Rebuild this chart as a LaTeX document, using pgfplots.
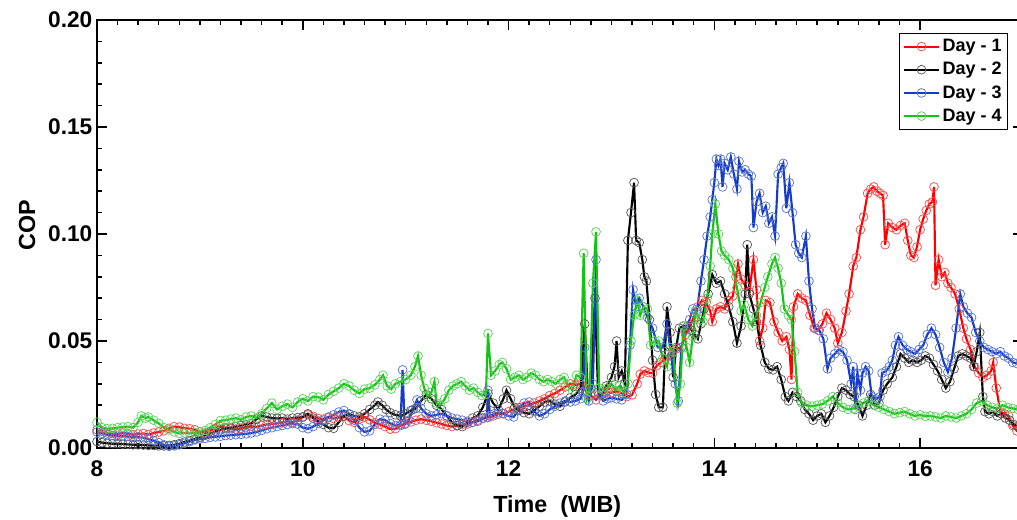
\documentclass[border=0pt]{standalone}
\usepackage{pgfplots}
\pgfplotsset{compat=1.18}
\usepackage{fontspec}
\setmainfont{Liberation Sans}
\definecolor{cred}{RGB}{255,0,0}
\definecolor{cblack}{RGB}{0,0,0}
\definecolor{cblue}{RGB}{20,60,200}
\definecolor{cgreen}{RGB}{20,195,20}
\begin{document}
\begin{tikzpicture}
\useasboundingbox (-72.75pt,-53.25pt) rectangle (690pt,336pt);
\begin{axis}[
  at={(0,0)}, anchor=south west,
  scale only axis, width=694.5pt, height=321pt,
  xmin=8, xmax=17, ymin=0, ymax=0.2,
  xtick={8,10,12,14,16}, xticklabels={8,10,12,14,16},
  ytick={0,0.05,0.1,0.15,0.2}, yticklabels={0.00,0.05,0.10,0.15,0.20},
  minor x tick num=9, minor y tick num=4,
  tick align=inside,
  major tick length=7.5pt, minor tick length=3.75pt,
  axis line style={line width=1.5pt},
  tick style={line width=1.1pt, black},
  ticklabel style={font=\fontsize{17}{20}\selectfont\bfseries},
  xticklabel shift=6pt,
  xlabel={Time\ \ (WIB)}, ylabel={COP},
  label style={font=\fontsize{17.5}{20}\selectfont\bfseries},
  xlabel style={at={(axis description cs:0.497,-0.137)}, anchor=center},
  ylabel style={at={(axis description cs:-0.0756,0.52)}, anchor=center},
  legend style={at={(0.984,0.970)}, anchor=north east, draw=black, line width=0.8pt,
    font=\fontsize{13.5}{16}\selectfont\bfseries, inner sep=2.5pt, row sep=2.5pt},
  legend cell align=left,
  legend image code/.code={\draw[#1] (0pt,0pt) -- (26pt,0pt); \draw[#1] plot coordinates {(13pt,0pt)};},
  every axis plot/.append style={line width=1.6pt, mark=o, mark size=3.3pt},
]
\addplot[color=cred, mark options={solid, draw=cred!70, fill=none, line width=0.55pt}] coordinates {
(8.00,0.0085)(8.05,0.0078)(8.10,0.0070)(8.15,0.0068)(8.20,0.0065)(8.25,0.0070)(8.30,0.0066)(8.35,0.0062)(8.40,0.0065)(8.45,0.0068)
(8.50,0.0063)(8.55,0.0070)(8.60,0.0075)(8.65,0.0080)(8.70,0.0092)(8.75,0.0100)(8.80,0.0098)(8.85,0.0092)(8.90,0.0090)(8.95,0.0085)
(9.00,0.0075)(9.05,0.0070)(9.10,0.0078)(9.15,0.0090)(9.20,0.0100)(9.25,0.0095)(9.30,0.0090)(9.35,0.0088)(9.40,0.0092)(9.45,0.0098)
(9.50,0.0102)(9.55,0.0098)(9.60,0.0105)(9.65,0.0110)(9.70,0.0112)(9.75,0.0115)(9.80,0.0118)(9.85,0.0125)(9.90,0.0120)(9.95,0.0130)
(10.00,0.0145)(10.05,0.0155)(10.10,0.0148)(10.15,0.0138)(10.20,0.0135)(10.25,0.0142)(10.30,0.0138)(10.35,0.0145)(10.40,0.0148)(10.45,0.0128)
(10.50,0.0120)(10.55,0.0135)(10.60,0.0145)(10.65,0.0132)(10.70,0.0118)(10.75,0.0110)(10.80,0.0100)(10.85,0.0088)(10.90,0.0090)(10.95,0.0105)
(11.00,0.0115)(11.05,0.0122)(11.10,0.0130)(11.15,0.0135)(11.20,0.0130)(11.25,0.0125)(11.30,0.0118)(11.35,0.0112)(11.40,0.0105)(11.45,0.0100)
(11.50,0.0104)(11.55,0.0110)(11.60,0.0112)(11.65,0.0120)(11.70,0.0130)(11.75,0.0138)(11.80,0.0142)(11.85,0.0150)(11.90,0.0158)(11.95,0.0162)
(12.00,0.0170)(12.05,0.0180)(12.10,0.0188)(12.15,0.0195)(12.20,0.0200)(12.25,0.0210)(12.30,0.0220)(12.35,0.0230)(12.40,0.0245)(12.45,0.0255)
(12.50,0.0270)(12.55,0.0285)(12.60,0.0300)(12.65,0.0295)(12.70,0.0300)(12.75,0.0270)(12.80,0.0245)(12.85,0.0225)(12.90,0.0250)(12.95,0.0262)
(13.00,0.0258)(13.05,0.0265)(13.10,0.0255)(13.15,0.0240)(13.20,0.0248)(13.25,0.0300)(13.28,0.0345)(13.32,0.0360)(13.36,0.0352)(13.40,0.0350)
(13.44,0.0385)(13.48,0.0400)(13.52,0.0415)(13.56,0.0440)(13.60,0.0460)(13.64,0.0465)(13.68,0.0470)(13.72,0.0530)(13.76,0.0570)(13.80,0.0610)
(13.84,0.0660)(13.88,0.0690)(13.92,0.0680)(13.96,0.0640)(13.98,0.0590)(14.02,0.0650)(14.06,0.0660)(14.10,0.0650)(14.14,0.0690)(14.18,0.0710)
(14.21,0.0800)(14.23,0.0860)(14.26,0.0790)(14.30,0.0760)(14.34,0.0730)(14.38,0.0880)(14.41,0.0740)(14.44,0.0500)(14.47,0.0560)(14.50,0.0690)
(14.54,0.0680)(14.58,0.0590)(14.62,0.0540)(14.66,0.0500)(14.70,0.0520)(14.73,0.0460)(14.75,0.0320)(14.77,0.0660)(14.81,0.0720)(14.85,0.0700)
(14.89,0.0690)(14.93,0.0620)(14.97,0.0560)(15.01,0.0550)(15.05,0.0580)(15.09,0.0630)(15.13,0.0600)(15.17,0.0560)(15.20,0.0490)(15.24,0.0540)
(15.28,0.0640)(15.31,0.0720)(15.35,0.0850)(15.38,0.0890)(15.42,0.1020)(15.45,0.1080)(15.49,0.1190)(15.52,0.1210)(15.55,0.1220)(15.58,0.1200)
(15.61,0.1190)(15.64,0.1180)(15.66,0.0950)(15.69,0.1050)(15.73,0.1030)(15.77,0.1020)(15.81,0.1040)(15.85,0.1050)(15.88,0.0970)(15.91,0.0900)
(15.94,0.0890)(15.97,0.0940)(16.00,0.1020)(16.03,0.1070)(16.06,0.1110)(16.09,0.1140)(16.12,0.1150)(16.135,0.1220)(16.15,0.0760)(16.18,0.0880)
(16.21,0.0800)(16.24,0.0820)(16.27,0.0770)(16.30,0.0750)(16.34,0.0720)(16.38,0.0650)(16.42,0.0560)(16.45,0.0510)(16.49,0.0460)(16.53,0.0380)
(16.57,0.0350)(16.61,0.0330)(16.65,0.0340)(16.69,0.0360)(16.71,0.0400)(16.74,0.0280)(16.78,0.0170)(16.82,0.0160)(16.86,0.0150)(16.90,0.0105)
(16.94,0.0080)(17.00,0.0060)
};
\addlegendentry{Day - 1}
\addplot[color=cblack, mark options={solid, draw=cblack!65, fill=none, line width=0.55pt}] coordinates {
(8.00,0.0030)(8.05,0.0025)(8.10,0.0022)(8.15,0.0020)(8.20,0.0020)(8.25,0.0018)(8.30,0.0017)(8.35,0.0015)(8.40,0.0015)(8.45,0.0014)
(8.50,0.0012)(8.55,0.0012)(8.60,0.0010)(8.65,0.0010)(8.70,0.0012)(8.75,0.0015)(8.80,0.0020)(8.85,0.0028)(8.90,0.0035)(8.95,0.0042)
(9.00,0.0050)(9.05,0.0060)(9.10,0.0068)(9.15,0.0078)(9.20,0.0085)(9.25,0.0090)(9.30,0.0095)(9.35,0.0100)(9.40,0.0105)(9.45,0.0110)
(9.50,0.0115)(9.55,0.0135)(9.60,0.0150)(9.65,0.0145)(9.70,0.0140)(9.75,0.0138)(9.80,0.0140)(9.85,0.0135)(9.90,0.0140)(9.95,0.0142)
(10.00,0.0145)(10.05,0.0160)(10.10,0.0140)(10.15,0.0125)(10.20,0.0110)(10.25,0.0095)(10.30,0.0092)(10.35,0.0120)(10.40,0.0150)(10.45,0.0158)
(10.50,0.0150)(10.55,0.0145)(10.60,0.0160)(10.65,0.0180)(10.70,0.0200)(10.73,0.0215)(10.77,0.0200)(10.81,0.0180)(10.85,0.0165)(10.90,0.0155)
(10.95,0.0150)(11.00,0.0160)(11.05,0.0175)(11.10,0.0185)(11.15,0.0220)(11.20,0.0250)(11.25,0.0230)(11.30,0.0200)(11.35,0.0180)(11.40,0.0150)
(11.45,0.0120)(11.50,0.0105)(11.55,0.0100)(11.60,0.0120)(11.65,0.0140)(11.70,0.0150)(11.75,0.0190)(11.80,0.0255)(11.85,0.0210)(11.90,0.0180)
(11.95,0.0230)(11.98,0.0270)(12.02,0.0230)(12.06,0.0190)(12.10,0.0175)(12.15,0.0165)(12.20,0.0160)(12.25,0.0175)(12.30,0.0195)(12.35,0.0215)
(12.40,0.0220)(12.45,0.0205)(12.50,0.0195)(12.55,0.0215)(12.60,0.0235)(12.65,0.0250)(12.70,0.0280)(12.74,0.0580)(12.77,0.0260)(12.80,0.0280)
(12.84,0.0700)(12.87,0.0260)(12.91,0.0250)(12.95,0.0290)(13.00,0.0330)(13.03,0.0380)(13.05,0.0500)(13.07,0.0330)(13.10,0.0360)(13.13,0.0300)
(13.16,0.0970)(13.19,0.1100)(13.22,0.1240)(13.24,0.0970)(13.27,0.0960)(13.30,0.0880)(13.32,0.0800)(13.34,0.0780)(13.37,0.0600)(13.40,0.0410)
(13.43,0.0250)(13.46,0.0190)(13.50,0.0190)(13.52,0.0450)(13.54,0.0660)(13.57,0.0540)(13.60,0.0330)(13.63,0.0470)(13.66,0.0560)(13.70,0.0570)
(13.74,0.0570)(13.78,0.0550)(13.81,0.0530)(13.84,0.0510)(13.87,0.0580)(13.90,0.0650)(13.94,0.0720)(13.98,0.0810)(14.02,0.0770)(14.06,0.0780)
(14.10,0.0720)(14.14,0.0660)(14.18,0.0590)(14.22,0.0490)(14.26,0.0570)(14.30,0.0720)(14.32,0.0950)(14.34,0.0720)(14.38,0.0650)(14.41,0.0590)
(14.45,0.0480)(14.49,0.0400)(14.53,0.0370)(14.57,0.0365)(14.61,0.0380)(14.65,0.0320)(14.69,0.0240)(14.72,0.0220)(14.76,0.0260)(14.80,0.0240)
(14.84,0.0220)(14.88,0.0180)(14.92,0.0160)(14.96,0.0130)(15.00,0.0150)(15.04,0.0160)(15.08,0.0120)(15.12,0.0150)(15.16,0.0190)(15.20,0.0240)
(15.24,0.0280)(15.28,0.0270)(15.32,0.0250)(15.36,0.0240)(15.40,0.0200)(15.44,0.0150)(15.48,0.0200)(15.52,0.0250)(15.56,0.0200)(15.60,0.0210)
(15.64,0.0270)(15.68,0.0300)(15.73,0.0330)(15.77,0.0380)(15.81,0.0440)(15.85,0.0420)(15.89,0.0400)(15.93,0.0410)(15.97,0.0400)(16.01,0.0410)
(16.05,0.0430)(16.09,0.0420)(16.13,0.0390)(16.17,0.0360)(16.21,0.0320)(16.25,0.0280)(16.29,0.0310)(16.33,0.0370)(16.37,0.0430)(16.41,0.0440)
(16.45,0.0430)(16.49,0.0420)(16.52,0.0380)(16.55,0.0450)(16.58,0.0540)(16.61,0.0240)(16.63,0.0170)(16.67,0.0160)(16.71,0.0170)(16.75,0.0150)
(16.79,0.0160)(16.83,0.0140)(16.87,0.0130)(16.91,0.0110)(16.95,0.0100)(17.00,0.0090)
};
\addlegendentry{Day - 2}
\addplot[color=cblue, mark options={solid, draw=cblue!70, fill=none, line width=0.55pt}] coordinates {
(8.00,0.0075)(8.05,0.0068)(8.10,0.0062)(8.15,0.0058)(8.20,0.0055)(8.25,0.0056)(8.30,0.0054)(8.35,0.0050)(8.40,0.0052)(8.45,0.0048)
(8.50,0.0042)(8.55,0.0035)(8.60,0.0025)(8.65,0.0015)(8.70,0.0008)(8.75,0.0010)(8.80,0.0015)(8.85,0.0022)(8.90,0.0030)(8.95,0.0038)
(9.00,0.0042)(9.05,0.0045)(9.10,0.0050)(9.15,0.0052)(9.20,0.0055)(9.25,0.0058)(9.30,0.0060)(9.35,0.0062)(9.40,0.0064)(9.45,0.0066)
(9.50,0.0070)(9.55,0.0075)(9.60,0.0082)(9.65,0.0090)(9.70,0.0095)(9.75,0.0100)(9.80,0.0105)(9.85,0.0110)(9.90,0.0114)(9.95,0.0112)
(10.00,0.0095)(10.05,0.0090)(10.10,0.0100)(10.15,0.0115)(10.20,0.0130)(10.25,0.0145)(10.30,0.0155)(10.35,0.0168)(10.40,0.0175)(10.45,0.0160)
(10.50,0.0130)(10.55,0.0095)(10.60,0.0075)(10.65,0.0080)(10.70,0.0110)(10.75,0.0135)(10.80,0.0130)(10.85,0.0115)(10.90,0.0105)(10.95,0.0110)
(10.97,0.0365)(10.99,0.0110)(11.03,0.0130)(11.07,0.0180)(11.11,0.0225)(11.15,0.0185)(11.20,0.0160)(11.25,0.0150)(11.30,0.0155)(11.35,0.0160)
(11.40,0.0150)(11.45,0.0140)(11.50,0.0135)(11.55,0.0130)(11.60,0.0125)(11.65,0.0120)(11.70,0.0125)(11.75,0.0140)(11.79,0.0145)(11.80,0.0270)
(11.82,0.0150)(11.86,0.0160)(11.90,0.0165)(11.95,0.0160)(12.00,0.0150)(12.05,0.0145)(12.10,0.0180)(12.15,0.0210)(12.20,0.0215)(12.25,0.0170)
(12.30,0.0150)(12.35,0.0160)(12.40,0.0180)(12.45,0.0195)(12.50,0.0210)(12.55,0.0220)(12.60,0.0215)(12.65,0.0220)(12.70,0.0230)(12.72,0.0260)
(12.74,0.0470)(12.76,0.0260)(12.78,0.0220)(12.82,0.0300)(12.85,0.0880)(12.88,0.0250)(12.92,0.0220)(12.96,0.0230)(13.00,0.0235)(13.05,0.0230)
(13.10,0.0225)(13.15,0.0250)(13.18,0.0480)(13.21,0.0740)(13.24,0.0660)(13.27,0.0700)(13.31,0.0660)(13.35,0.0610)(13.40,0.0560)(13.45,0.0470)
(13.50,0.0470)(13.54,0.0580)(13.58,0.0430)(13.62,0.0300)(13.65,0.0220)(13.68,0.0470)(13.72,0.0550)(13.76,0.0600)(13.79,0.0650)(13.83,0.0640)
(13.87,0.0780)(13.90,0.0880)(13.93,0.0990)(13.96,0.1080)(13.98,0.1160)(14.00,0.1240)(14.02,0.1350)(14.04,0.1320)(14.06,0.1350)(14.08,0.1220)
(14.10,0.1330)(14.13,0.1300)(14.16,0.1360)(14.19,0.1280)(14.22,0.1210)(14.24,0.1340)(14.27,0.1290)(14.30,0.1300)(14.33,0.1280)(14.36,0.1270)
(14.38,0.1030)(14.41,0.1150)(14.44,0.1190)(14.47,0.1100)(14.50,0.1130)(14.53,0.1050)(14.56,0.1080)(14.59,0.0990)(14.62,0.1280)(14.65,0.1310)
(14.67,0.1330)(14.70,0.1120)(14.73,0.1240)(14.76,0.1100)(14.79,0.0950)(14.82,0.0910)(14.85,0.0890)(14.89,0.0990)(14.92,0.0780)(14.95,0.0650)
(14.98,0.0560)(15.02,0.0550)(15.06,0.0510)(15.10,0.0370)(15.13,0.0420)(15.17,0.0440)(15.21,0.0460)(15.25,0.0450)(15.29,0.0410)(15.33,0.0300)
(15.35,0.0380)(15.37,0.0180)(15.39,0.0350)(15.42,0.0270)(15.44,0.0350)(15.47,0.0380)(15.50,0.0360)(15.53,0.0240)(15.57,0.0230)(15.61,0.0240)
(15.63,0.0350)(15.67,0.0360)(15.70,0.0380)(15.73,0.0410)(15.76,0.0480)(15.79,0.0520)(15.83,0.0480)(15.87,0.0460)(15.91,0.0450)(15.95,0.0440)
(15.99,0.0460)(16.03,0.0480)(16.07,0.0530)(16.11,0.0560)(16.15,0.0530)(16.19,0.0470)(16.23,0.0400)(16.27,0.0355)(16.31,0.0420)(16.35,0.0560)
(16.39,0.0720)(16.42,0.0660)(16.46,0.0630)(16.50,0.0610)(16.54,0.0540)(16.58,0.0500)(16.62,0.0470)(16.66,0.0460)(16.70,0.0450)(16.74,0.0440)
(16.78,0.0450)(16.82,0.0430)(16.86,0.0420)(16.90,0.0400)(16.94,0.0395)(17.00,0.0380)
};
\addlegendentry{Day - 3}
\addplot[color=cgreen, mark options={solid, draw=cgreen!70, fill=none, line width=0.55pt}] coordinates {
(8.00,0.0120)(8.05,0.0095)(8.10,0.0090)(8.15,0.0092)(8.20,0.0095)(8.25,0.0098)(8.30,0.0100)(8.35,0.0095)(8.40,0.0120)(8.43,0.0150)
(8.47,0.0140)(8.50,0.0145)(8.55,0.0130)(8.60,0.0115)(8.65,0.0095)(8.70,0.0085)(8.75,0.0075)(8.80,0.0068)(8.85,0.0070)(8.90,0.0068)
(8.95,0.0072)(9.00,0.0075)(9.05,0.0082)(9.10,0.0095)(9.15,0.0110)(9.20,0.0128)(9.25,0.0130)(9.30,0.0135)(9.35,0.0140)(9.40,0.0132)
(9.45,0.0145)(9.50,0.0150)(9.55,0.0140)(9.60,0.0160)(9.65,0.0185)(9.70,0.0210)(9.75,0.0180)(9.80,0.0195)(9.85,0.0205)(9.90,0.0190)
(9.95,0.0215)(10.00,0.0230)(10.05,0.0220)(10.10,0.0240)(10.15,0.0238)(10.20,0.0225)(10.25,0.0250)(10.30,0.0265)(10.35,0.0280)(10.40,0.0300)
(10.45,0.0290)(10.50,0.0270)(10.55,0.0255)(10.60,0.0275)(10.65,0.0280)(10.70,0.0295)(10.75,0.0320)(10.78,0.0340)(10.82,0.0290)(10.86,0.0275)
(10.90,0.0300)(10.95,0.0310)(11.00,0.0320)(11.05,0.0340)(11.09,0.0380)(11.12,0.0430)(11.15,0.0340)(11.18,0.0280)(11.21,0.0240)(11.25,0.0260)
(11.28,0.0310)(11.30,0.0210)(11.34,0.0200)(11.38,0.0230)(11.42,0.0270)(11.46,0.0290)(11.50,0.0300)(11.54,0.0310)(11.58,0.0290)(11.62,0.0270)
(11.66,0.0280)(11.70,0.0260)(11.74,0.0245)(11.78,0.0250)(11.80,0.0535)(11.83,0.0340)(11.87,0.0360)(11.91,0.0390)(11.94,0.0400)(11.98,0.0370)
(12.02,0.0320)(12.06,0.0330)(12.10,0.0340)(12.14,0.0320)(12.18,0.0330)(12.22,0.0350)(12.26,0.0340)(12.30,0.0320)(12.34,0.0310)(12.38,0.0320)
(12.42,0.0310)(12.46,0.0300)(12.50,0.0320)(12.54,0.0330)(12.58,0.0290)(12.62,0.0270)(12.66,0.0340)(12.70,0.0330)(12.73,0.0910)(12.76,0.0230)
(12.79,0.0280)(12.82,0.0770)(12.85,0.1010)(12.88,0.0280)(12.92,0.0270)(12.96,0.0280)(13.00,0.0300)(13.04,0.0270)(13.08,0.0290)(13.12,0.0260)
(13.16,0.0300)(13.19,0.0500)(13.22,0.0620)(13.25,0.0690)(13.28,0.0620)(13.31,0.0660)(13.35,0.0650)(13.38,0.0480)(13.42,0.0500)(13.46,0.0500)
(13.50,0.0420)(13.54,0.0380)(13.57,0.0470)(13.60,0.0450)(13.64,0.0210)(13.67,0.0300)(13.70,0.0570)(13.73,0.0470)(13.76,0.0400)(13.79,0.0520)
(13.82,0.0640)(13.86,0.0600)(13.89,0.0590)(13.93,0.0700)(13.96,0.0850)(13.98,0.1000)(14.01,0.1140)(14.04,0.1000)(14.07,0.0920)(14.10,0.0900)
(14.14,0.0880)(14.18,0.0840)(14.22,0.0750)(14.26,0.0640)(14.29,0.0670)(14.33,0.0600)(14.37,0.0570)(14.41,0.0620)(14.45,0.0680)(14.49,0.0750)
(14.52,0.0800)(14.56,0.0860)(14.59,0.0890)(14.62,0.0840)(14.65,0.0770)(14.68,0.0650)(14.72,0.0620)(14.75,0.0600)(14.78,0.0450)(14.81,0.0260)
(14.85,0.0210)(14.90,0.0200)(14.95,0.0195)(15.00,0.0200)(15.05,0.0205)(15.10,0.0220)(15.15,0.0240)(15.20,0.0210)(15.25,0.0190)(15.30,0.0180)
(15.35,0.0185)(15.40,0.0195)(15.45,0.0210)(15.50,0.0220)(15.55,0.0200)(15.60,0.0190)(15.65,0.0180)(15.70,0.0170)(15.75,0.0160)(15.80,0.0165)
(15.85,0.0170)(15.90,0.0160)(15.95,0.0150)(16.00,0.0155)(16.05,0.0148)(16.10,0.0150)(16.15,0.0145)(16.20,0.0140)(16.25,0.0150)(16.30,0.0145)
(16.35,0.0140)(16.40,0.0150)(16.45,0.0160)(16.50,0.0180)(16.55,0.0210)(16.60,0.0220)(16.65,0.0200)(16.70,0.0190)(16.75,0.0185)(16.80,0.0200)
(16.85,0.0190)(16.90,0.0185)(16.95,0.0180)(17.00,0.0175)
};
\addlegendentry{Day - 4}
\end{axis}
\end{tikzpicture}
\end{document}
